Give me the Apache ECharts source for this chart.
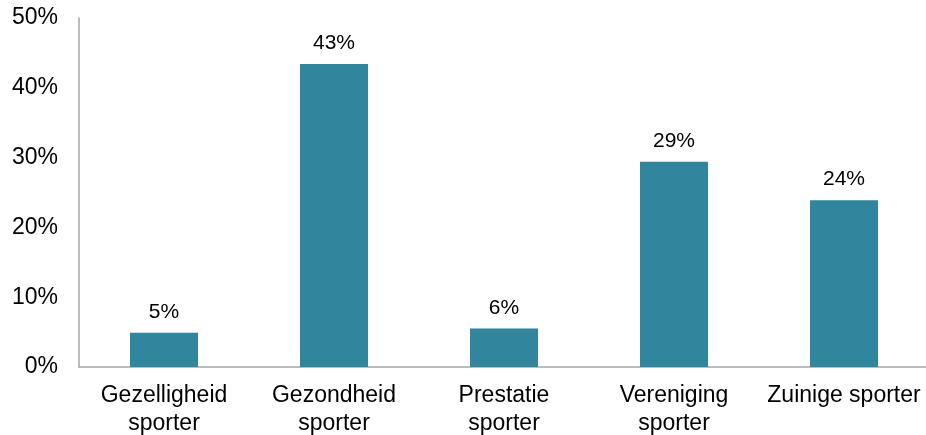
<!DOCTYPE html>
<html>
<head>
<meta charset="utf-8">
<script src="https://cdn.jsdelivr.net/npm/echarts@6/dist/echarts.min.js"></script>
<style>
  html, body { margin: 0; padding: 0; background: #fff; }
  #chart { width: 926px; height: 435px; }
</style>
</head>
<body>
<div id="chart"></div>
<script>
// Sporter types and their share (%)
const categories = ['Gezelligheid\nsporter', 'Gezondheid\nsporter', 'Prestatie\nsporter', 'Vereniging\nsporter', 'Zuinige sporter'];
const shares = [4.9, 43.4, 5.5, 29.4, 23.9];

const chart = echarts.init(document.getElementById('chart'));
chart.setOption({
  animation: false,
  grid: { left: 79, top: 18, width: 850, height: 349, containLabel: false, outerBoundsMode: 'none' },
  xAxis: {
    type: 'category',
    data: categories,
    axisLine: { lineStyle: { color: '#a6a6a6', width: 1.5 } },
    axisTick: { show: false },
    axisLabel: {
      color: '#000', fontSize: 23, fontFamily: 'Liberation Sans, Arial, sans-serif',
      lineHeight: 28, margin: 15, interval: 0
    }
  },
  yAxis: {
    type: 'value',
    min: 0, max: 50, interval: 10,
    axisLine: { show: true, lineStyle: { color: '#a6a6a6', width: 1.5 } },
    axisTick: { show: false },
    splitLine: { show: false },
    axisLabel: {
      color: '#000', fontSize: 23, fontFamily: 'Liberation Sans, Arial, sans-serif',
      margin: 21, formatter: '{value}%'
    }
  },
  series: [{
    type: 'bar',
    data: shares,
    barWidth: '40%',
    itemStyle: { color: '#31859C' },
    label: {
      show: true, position: 'top', distance: 10,
      color: '#000', fontSize: 21, fontFamily: 'Liberation Sans, Arial, sans-serif',
      formatter: p => Math.round(p.value) + '%'
    }
  }]
});
</script>
</body>
</html>
